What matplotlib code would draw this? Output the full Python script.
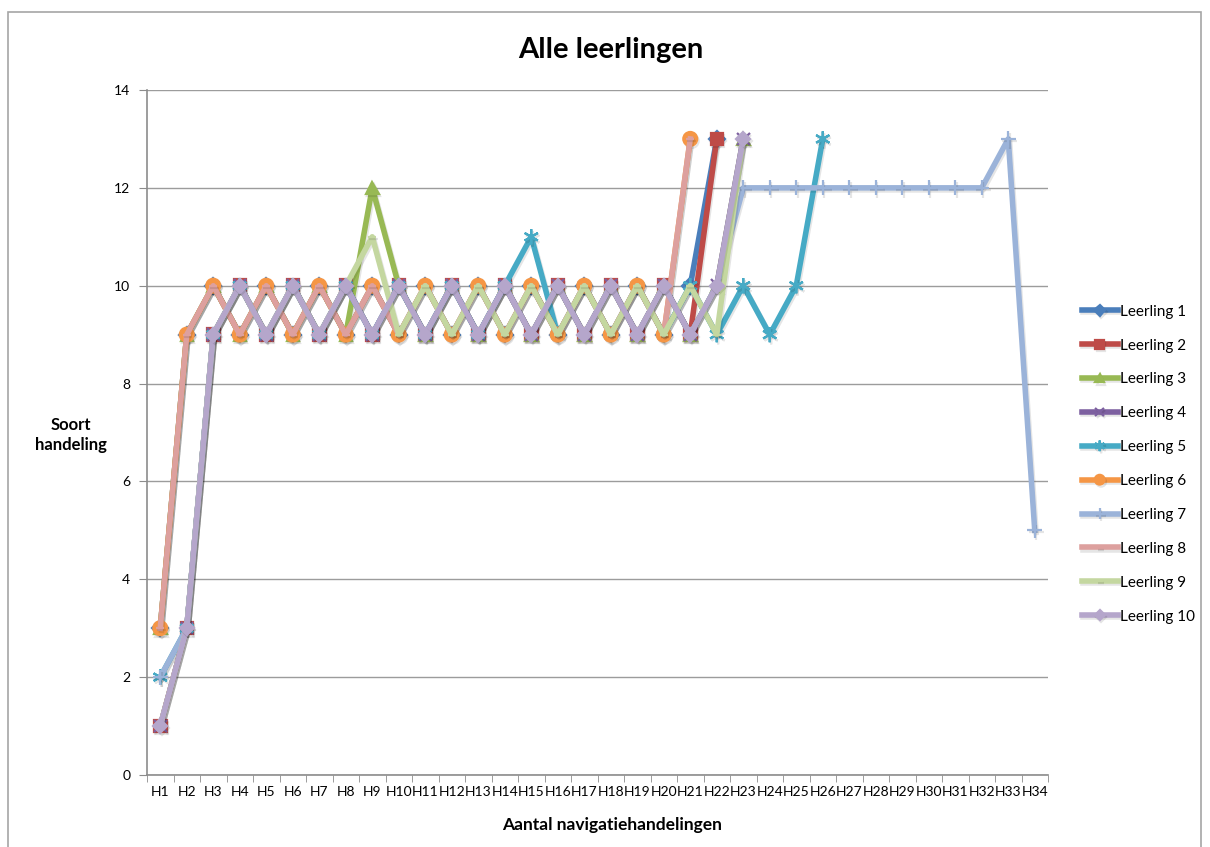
import matplotlib.pyplot as plt
import matplotlib.patheffects as pe
from matplotlib.patches import Rectangle
import numpy as np

plt.rcParams['font.family'] = ['Lato', 'DejaVu Sans']

categories = ['H%d' % i for i in range(1, 35)]

leerling_1 = [3, 9, 10, 9, 10, 9, 10, 9, 10, 9, 10, 9, 10, 9, 10, 9, 10, 9, 10, 9, 10, 13]
leerling_2 = [1, 3, 9, 10, 9, 10, 9, 10, 9, 10, 9, 10, 9, 10, 9, 10, 9, 10, 9, 10, 9, 13]
leerling_3 = [3, 9, 10, 9, 10, 9, 10, 9, 12, 10, 9, 10, 9, 10, 9, 10, 9, 10, 9, 10, 9, 10, 13]
leerling_4 = [1, 3, 9, 10, 9, 10, 9, 10, 9, 10, 9, 10, 9, 10, 9, 10, 9, 10, 9, 10, 9, 10, 13]
leerling_5 = [2, 3, 9, 10, 9, 10, 9, 10, 9, 10, 9, 10, 9, 10, 11, 9, 10, 9, 10, 9, 10, 9, 10, 9, 10, 13]
leerling_6 = [3, 9, 10, 9, 10, 9, 10, 9, 10, 9, 10, 9, 10, 9, 10, 9, 10, 9, 10, 9, 13]
leerling_7 = [2, 3, 9, 10, 9, 10, 9, 10, 9, 10, 9, 10, 9, 10, 9, 10, 9, 10, 9, 10, 9, 10,
              12, 12, 12, 12, 12, 12, 12, 12, 12, 12, 13, 5]
leerling_8 = [3, 9, 10, 9, 10, 9, 10, 9, 10, 9, 10, 9, 10, 9, 10, 9, 10, 9, 10, 9, 13]
leerling_9 = [1, 3, 9, 10, 9, 10, 9, 10, 11, 9, 10, 9, 10, 9, 10, 9, 10, 9, 10, 9, 10, 9, 13]
leerling_10 = [1, 3, 9, 10, 9, 10, 9, 10, 9, 10, 9, 10, 9, 10, 9, 10, 9, 10, 9, 10, 9, 10, 13]

series = [
    ('Leerling 1', leerling_1, '#4A7EBB', 'D', 8),
    ('Leerling 2', leerling_2, '#BE4B48', 's', 9),
    ('Leerling 3', leerling_3, '#98B954', '^', 9),
    ('Leerling 4', leerling_4, '#7D60A0', 'x', 9),
    ('Leerling 5', leerling_5, '#46AAC5', (6, 2, 0), 11),
    ('Leerling 6', leerling_6, '#F59645', 'o', 10),
    ('Leerling 7', leerling_7, '#9BB3D9', '+', 11),
    ('Leerling 8', leerling_8, '#DDA09E', '_', 6),
    ('Leerling 9', leerling_9, '#C4D7A0', '_', 6),
    ('Leerling 10', leerling_10, '#B5A6CB', 'D', 7),
]

fig = plt.figure(figsize=(12.1, 8.47), dpi=100)
fig.patches.append(Rectangle((8 / 1210, -0.05), 1193 / 1210, 1.05 - 12 / 847,
                             transform=fig.transFigure, fill=False,
                             edgecolor='#A6A6A6', lw=1.2))
ax = fig.add_axes([147 / 1210, 1 - 775 / 847, 901 / 1210, 685 / 847])

shadow = [pe.SimpleLineShadow(offset=(1.0, -1.5), shadow_color='k', alpha=0.1),
          pe.Normal()]

for name, vals, col, mk, ms in series:
    x = np.arange(len(vals))
    ax.plot(x, vals, color=col, lw=4, marker=mk, markersize=ms,
            markeredgecolor=col, markeredgewidth=1.6, label=name,
            solid_joinstyle='round', path_effects=shadow)

ax.set_xlim(-0.5, 33.5)
ax.set_ylim(0, 14)
ax.set_yticks(range(0, 15, 2))
ax.set_xticks(range(34))
ax.set_xticklabels(categories, fontsize=10)
ax.set_xticks(np.arange(-0.5, 34, 1), minor=True)
ax.tick_params(axis='x', which='major', length=0, pad=8)
ax.tick_params(axis='x', which='minor', length=5, color='#8C8C8C', direction='out')
ax.tick_params(axis='y', length=6, color='#8C8C8C', labelsize=10, pad=6)
ax.yaxis.grid(True, color='#9C9C9C', lw=1)
ax.set_axisbelow(True)
for s in ['top', 'right']:
    ax.spines[s].set_visible(False)
for s in ['left', 'bottom']:
    ax.spines[s].set_color('#8C8C8C')
    ax.spines[s].set_linewidth(1.2)

fig.text(611 / 1210, 1 - 50 / 847, 'Alle leerlingen', ha='center', va='center',
         fontsize=21, fontweight='bold')
fig.text(71 / 1210, 1 - 435 / 847, 'Soort\nhandeling', ha='center', va='center',
         fontsize=12, fontweight='bold', linespacing=1.3)
fig.text(612 / 1210, 1 - 825 / 847, 'Aantal navigatiehandelingen', ha='center',
         va='center', fontsize=12.5, fontweight='bold')

fig.legend(loc='upper left', bbox_to_anchor=(1068 / 1210, 1 - 291 / 847),
           frameon=False, fontsize=11, handlelength=2.35, handletextpad=0.15,
           labelspacing=1.3, markerscale=0.7)

fig.savefig('out.png', dpi=100)
